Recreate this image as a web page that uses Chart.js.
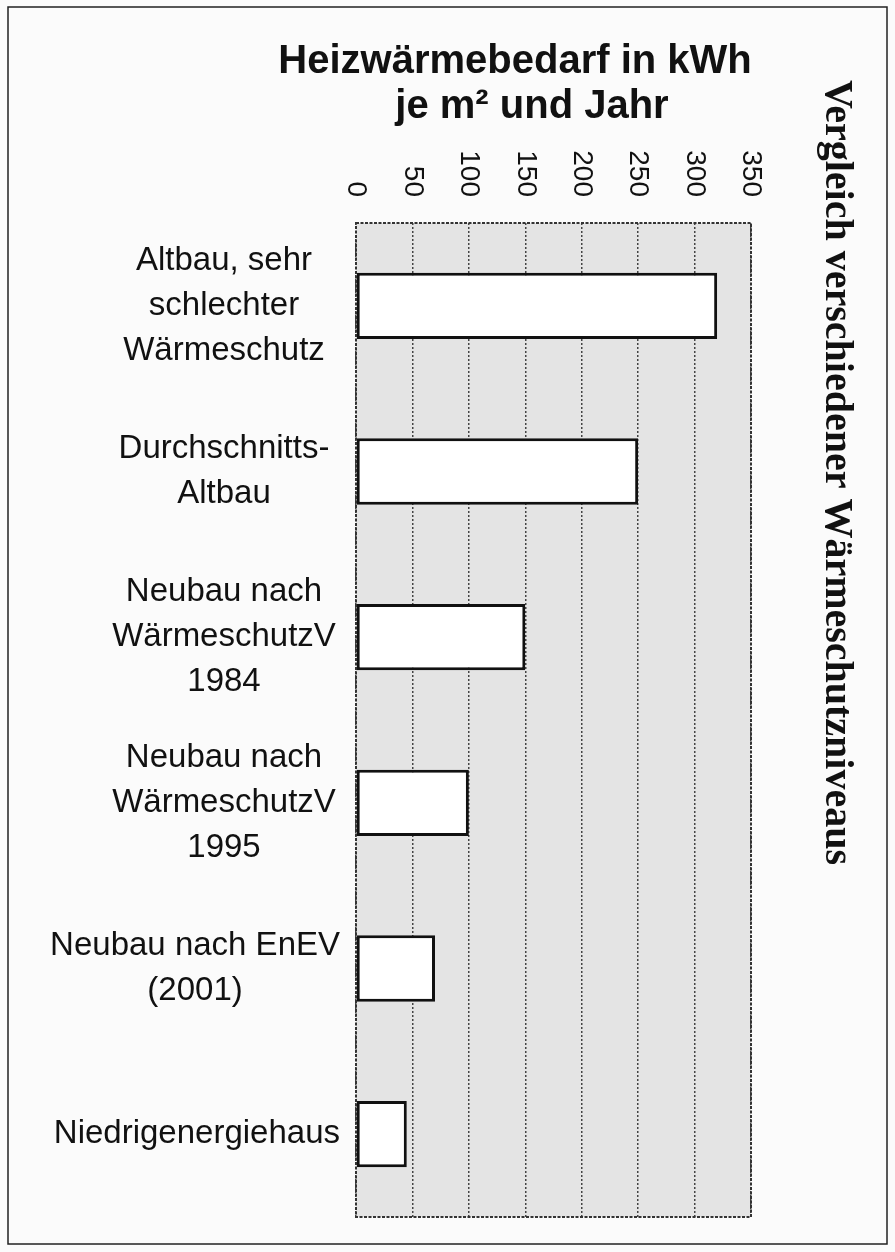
<!DOCTYPE html>
<html>
<head>
<meta charset="utf-8">
<script src="https://cdn.jsdelivr.net/npm/chart.js@4.4.0/dist/chart.umd.min.js"></script>
<style>
  html, body { margin: 0; padding: 0; background: #fbfbfb; }
  #wrap { width: 895px; height: 1252px; position: relative; }
</style>
</head>
<body>
<div id="wrap"><canvas id="chart"></canvas></div>
<script>
const categories = [
  ['Altbau, sehr', 'schlechter', 'Wärmeschutz'],
  ['Durchschnitts-', 'Altbau'],
  ['Neubau nach', 'WärmeschutzV', '1984'],
  ['Neubau nach', 'WärmeschutzV', '1995'],
  ['Neubau nach EnEV', '(2001)'],
  ['Niedrigenergiehaus']
];
const heatDemand = [320, 250, 150, 100, 70, 45];
const xTicks = [0, 50, 100, 150, 200, 250, 300, 350];
const titleLines = ['Heizwärmebedarf in kWh', 'je m² und Jahr'];
const sideTitle = 'Vergleich verschiedener Wärmeschutzniveaus';

const SANS = '"Liberation Sans", Arial, sans-serif';

// background, plot area, labels and frame drawn by hand
const decor = {
  id: 'decor',
  beforeDraw(chart) {
    const ctx = chart.ctx, a = chart.chartArea;
    ctx.save();
    ctx.fillStyle = '#fbfbfb';
    ctx.fillRect(0, 0, chart.width, chart.height);
    ctx.fillStyle = '#e4e4e4';
    ctx.fillRect(a.left, a.top, a.right - a.left, a.bottom - a.top);
    ctx.restore();
  },
  afterDraw(chart) {
    const ctx = chart.ctx, a = chart.chartArea;
    const xs = chart.scales.x, ys = chart.scales.y;
    ctx.save();

    // plot border
    ctx.strokeStyle = '#333';
    ctx.lineWidth = 2;
    ctx.setLineDash([3, 1.5]);
    ctx.strokeRect(a.left, a.top, a.right - a.left, a.bottom - a.top);
    ctx.setLineDash([]);

    // main title
    ctx.fillStyle = '#111';
    ctx.font = 'bold 40px ' + SANS;
    ctx.textAlign = 'center';
    ctx.textBaseline = 'alphabetic';
    ctx.fillText(titleLines[0], 515, 73);
    ctx.fillText(titleLines[1], 532, 118);

    // x tick labels, rotated clockwise
    ctx.font = '28px ' + SANS;
    ctx.textAlign = 'right';
    ctx.textBaseline = 'middle';
    xs.ticks.forEach((t, i) => {
      const px = xs.getPixelForTick(i);
      ctx.save();
      ctx.translate(px, 197);
      ctx.rotate(Math.PI / 2);
      ctx.fillText(String(t.value), 0, 0);
      ctx.restore();
    });

    // category labels
    ctx.font = '33px ' + SANS;
    ctx.textAlign = 'center';
    ctx.textBaseline = 'middle';
    const lh = 45;
    categories.forEach((lines, i) => {
      const cy = ys.getPixelForValue(i);
      const w = Math.max(...lines.map(l => ctx.measureText(l).width));
      const cx = Math.min(224, 340 - w / 2);
      lines.forEach((l, j) => {
        ctx.fillText(l, cx, cy + (j - (lines.length - 1) / 2) * lh);
      });
    });

    // outer frame
    ctx.strokeStyle = '#222';
    ctx.lineWidth = 1.5;
    ctx.strokeRect(8, 7, 879, 1237);
    ctx.restore();
  }
};

const ctx = document.getElementById('chart').getContext('2d');
const chart = new Chart(ctx, {
  type: 'bar',
  data: {
    labels: categories,
    datasets: [{
      data: heatDemand,
      backgroundColor: '#ffffff',
      borderColor: '#111111',
      borderWidth: 3,
      borderSkipped: false,
      categoryPercentage: 1,
      barPercentage: 0.4
    }]
  },
  options: {
    indexAxis: 'y',
    responsive: true,
    maintainAspectRatio: false,
    animation: false,
    layout: { padding: { top: 80, right: 20, bottom: 35, left: 0 } },
    scales: {
      x: {
        position: 'top',
        min: 0,
        max: 350,
        afterBuildTicks: s => { s.ticks = xTicks.map(v => ({ value: v })); },
        afterFit: s => { s.height = 143; },
        ticks: { display: false },
        border: { display: false, dash: [2, 2] },
        grid: {
          drawTicks: false,
          color: '#444',
          lineWidth: 1.5
        }
      },
      y: {
        afterFit: s => { s.width = 356; },
        ticks: { display: false },
        border: { display: false },
        grid: { display: false }
      }
    },
    plugins: {
      legend: { display: false },
      tooltip: { enabled: false },
      title: {
        display: true,
        text: sideTitle,
        position: 'right',
        align: 'start',
        color: '#111',
        font: { family: '"Liberation Serif", "Times New Roman", serif', size: 40, weight: 'bold', lineHeight: 1.2 },
        padding: { top: 15, bottom: 61 }
      }
    }
  },
  plugins: [decor]
});
</script>
</body>
</html>
